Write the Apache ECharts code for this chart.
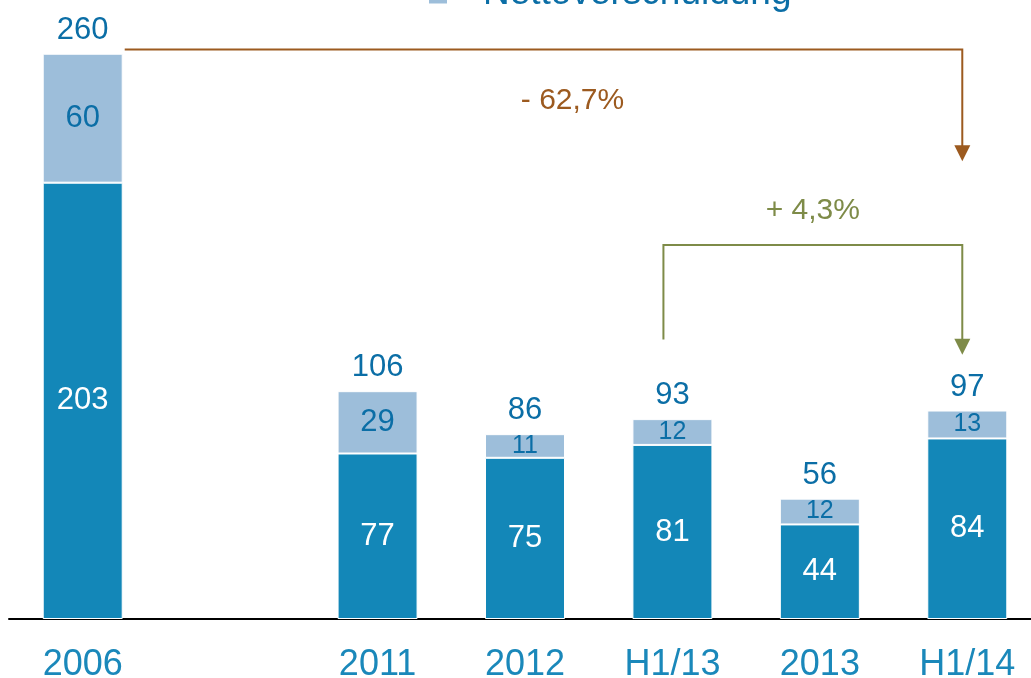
<!DOCTYPE html>
<html>
<head>
<meta charset="utf-8">
<script src="https://cdn.jsdelivr.net/npm/echarts@6/dist/echarts.min.js"></script>
<style>
  html, body { margin: 0; padding: 0; background: #fff; }
  #chart { width: 1031px; height: 678px; }
</style>
</head>
<body>
<div id="chart"></div>
<script>
  // data
  var categories = ['2006', '', '2011', '2012', 'H1/13', '2013', 'H1/14'];
  var darkValues = [203, '-', 77, 75, 81, 44, 84];
  var lightValues = [60, '-', 29, 11, 12, 12, 13];
  var totals = [260, '-', 106, 86, 93, 56, 97];

  var FONT = 'Liberation Sans, Arial, sans-serif';
  var darkBlue = '#1387B8';
  var lightBlue = '#9DBEDA';
  var labelBlue = '#0B6EA6';
  var brown = '#9C5A1F';
  var green = '#7E8B48';

  var chart = echarts.init(document.getElementById('chart'));

  chart.setOption({
    animation: false,
    textStyle: { fontFamily: FONT },
    grid: { left: 9, width: 1032, top: 0, bottom: 59, outerBoundsMode: 'none' },
    legend: {
      data: [{ name: 'Nettoverschuldung' }],
      left: 422,
      top: -30,
      icon: 'rect',
      itemWidth: 20,
      itemHeight: 22,
      textStyle: { fontSize: 37, color: labelBlue, fontFamily: FONT, padding: [0, 0, 0, 30] }
    },
    xAxis: {
      type: 'category',
      data: categories,
      axisLine: { lineStyle: { color: '#000', width: 2 } },
      axisTick: { show: false },
      axisLabel: { fontSize: 36, color: '#1A88BA', margin: 28, fontFamily: FONT }
    },
    yAxis: {
      type: 'value',
      min: 0,
      max: 288,
      show: false,
      splitLine: { show: false }
    },
    series: [
      {
        name: 'Bruttoverschuldung',
        type: 'bar',
        stack: 'debt',
        barWidth: 80,
        data: darkValues,
        itemStyle: { color: darkBlue, borderColor: '#fff', borderWidth: 1 },
        label: { show: true, position: 'inside', color: '#fff', fontSize: 31, fontFamily: FONT }
      },
      {
        name: 'Nettoverschuldung',
        type: 'bar',
        stack: 'debt',
        barWidth: 80,
        data: lightValues,
        itemStyle: { color: lightBlue, borderColor: '#fff', borderWidth: 1 },
        label: {
          show: true,
          position: 'inside',
          formatter: function (p) {
            return p.value < 20 ? '{s|' + p.value + '}' : '{b|' + p.value + '}';
          },
          rich: {
            b: { fontSize: 31, color: labelBlue, fontFamily: FONT },
            s: { fontSize: 25, color: labelBlue, fontFamily: FONT }
          }
        }
      },
      {
        name: 'Summe',
        type: 'bar',
        stack: 'debt',
        barWidth: 80,
        data: totals.map(function (t) { return t === '-' ? '-' : 0; }),
        itemStyle: { color: 'transparent' },
        label: {
          show: true,
          position: 'top',
          distance: 8,
          color: labelBlue,
          fontSize: 31,
          fontFamily: FONT,
          formatter: function (p) { return totals[p.dataIndex]; }
        }
      }
    ]
  });

  // brackets with arrows, placed from the axes
  function px(cat, val) {
    return chart.convertToPixel({ xAxisIndex: 0, yAxisIndex: 0 }, [cat, val]);
  }

  function arrowHead(x, y, color) {
    return {
      type: 'polygon',
      shape: { points: [[x - 8, y - 16], [x + 8, y - 16], [x, y]] },
      style: { fill: color }
    };
  }

  function drawBrackets() {
    var a = px('2006', 265);
    var b = px('H1/14', 213);
    var startX = a[0] + 42;
    var endX = b[0] - 5;
    var topY = a[1];
    var brownTip = b[1];

    var g1 = px('H1/13', 130);
    var g2 = px('H1/13', 174);
    var g3 = px('H1/14', 123);
    var gStartX = g1[0] - 9;

    chart.setOption({
      graphic: [
        {
          type: 'polyline',
          shape: { points: [[startX, topY], [endX, topY], [endX, brownTip - 14]] },
          style: { stroke: brown, lineWidth: 2, fill: null }
        },
        arrowHead(endX, brownTip, brown),
        {
          type: 'text',
          x: (startX + endX) / 2 + 29,
          y: topY + 51,
          style: { text: '- 62,7%', fill: brown, fontSize: 30, fontFamily: FONT, align: 'center', verticalAlign: 'middle' }
        },
        {
          type: 'polyline',
          shape: { points: [[gStartX, g1[1]], [gStartX, g2[1]], [endX, g2[1]], [endX, g3[1] - 14]] },
          style: { stroke: green, lineWidth: 2, fill: null }
        },
        arrowHead(endX, g3[1], green),
        {
          type: 'text',
          x: (gStartX + endX) / 2,
          y: g2[1] - 34,
          style: { text: '+ 4,3%', fill: green, fontSize: 30, fontFamily: FONT, align: 'center', verticalAlign: 'middle' }
        }
      ]
    });
  }

  drawBrackets();
</script>
</body>
</html>
